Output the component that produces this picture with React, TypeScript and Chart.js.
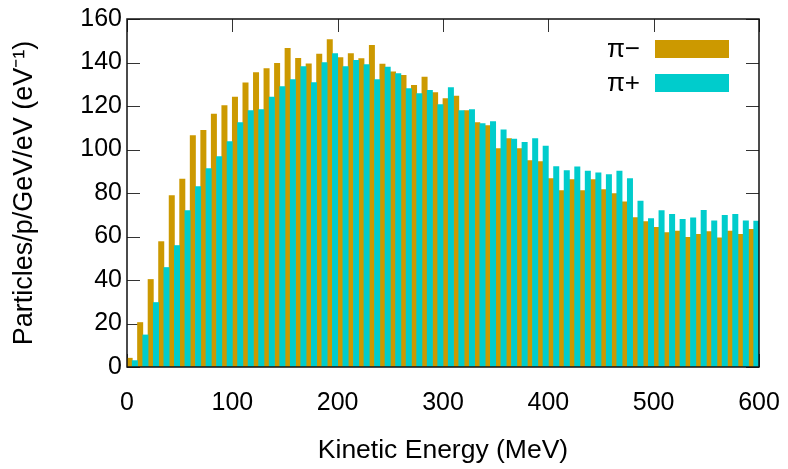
import { useEffect, useRef } from "react";
import { Chart, registerables } from "chart.js";

Chart.register(...registerables);

// Lower edge of each 10 MeV kinetic-energy bin (MeV)
const energyBins = [
  0, 10, 20, 30, 40, 50, 60, 70, 80, 90,
  100, 110, 120, 130, 140, 150, 160, 170, 180, 190,
  200, 210, 220, 230, 240, 250, 260, 270, 280, 290,
  300, 310, 320, 330, 340, 350, 360, 370, 380, 390,
  400, 410, 420, 430, 440, 450, 460, 470, 480, 490,
  500, 510, 520, 530, 540, 550, 560, 570, 580, 590,
];

// π− spectrum
const piMinus = [
  4.2, 20.6, 40.4, 57.8, 79.0, 86.5, 106.6, 109.0, 116.4, 120.4,
  124.2, 130.8, 135.5, 137.4, 139.8, 146.7, 142.1, 139.5, 144.0, 150.7,
  142.4, 144.3, 142.0, 148.1, 139.4, 135.9, 134.2, 129.6, 133.4, 126.3,
  123.6, 124.7, 118.1, 112.5, 111.2, 100.6, 105.2, 100.6, 95.1, 94.6,
  86.8, 81.3, 86.3, 81.3, 86.3, 81.7, 79.9, 76.1, 68.9, 67.0,
  64.4, 62.0, 62.6, 59.8, 61.1, 62.4, 59.5, 62.6, 61.1, 63.4,
];

// π+ spectrum
const piPlus = [
  3.1, 14.9, 29.8, 45.9, 56.0, 72.1, 83.1, 91.4, 96.9, 103.8,
  112.5, 118.1, 118.5, 124.2, 129.1, 132.3, 138.3, 130.9, 140.1, 144.3,
  138.3, 141.1, 139.2, 132.3, 138.0, 135.1, 128.2, 125.9, 127.3, 120.8,
  128.6, 118.1, 118.5, 112.1, 113.0, 109.2, 104.9, 103.5, 105.2, 101.7,
  92.3, 90.5, 92.2, 90.2, 89.4, 88.6, 90.2, 86.8, 76.4, 68.4,
  72.1, 70.3, 68.0, 68.7, 72.2, 67.3, 69.9, 70.3, 67.3, 67.2,
];

const seriesNames = ["π−", "π+"];
const seriesColors = ["#cc9900", "#00cccc"];

const xTicks = [0, 100, 200, 300, 400, 500, 600];
const yTicks = [0, 20, 40, 60, 80, 100, 120, 140, 160];

const BIN_WIDTH = 10;
const FONT = "'Liberation Sans', Arial, Helvetica, sans-serif";

const framePlugin = {
  id: "gnuplotFrame",
  beforeDatasetsDraw(chart: any) {
    const { ctx, chartArea: a, scales } = chart;
    const x = scales.x;
    const y = scales.y;
    const L = 13;
    ctx.save();
    ctx.strokeStyle = "#333";
    ctx.lineWidth = 1;
    ctx.beginPath();
    for (const v of yTicks) {
      const py = Math.round(y.getPixelForValue(v)) + 0.5;
      ctx.moveTo(a.left, py);
      ctx.lineTo(a.left + L, py);
      ctx.moveTo(a.right, py);
      ctx.lineTo(a.right - L, py);
    }
    for (const v of xTicks) {
      const px = Math.round(x.getPixelForValue(v)) + 0.5;
      ctx.moveTo(px, a.top);
      ctx.lineTo(px, a.top + L);
      ctx.moveTo(px, a.bottom);
      ctx.lineTo(px, a.bottom - L);
    }
    ctx.stroke();
    ctx.restore();
  },
  afterDatasetsDraw(chart: any) {
    const { ctx, chartArea: a } = chart;
    ctx.save();
    // frame
    ctx.strokeStyle = "#111";
    ctx.lineWidth = 1.5;
    ctx.strokeRect(a.left, a.top, a.right - a.left, a.bottom - a.top);
    // legend (inside top-right, text left of sample box)
    const boxW = 74;
    const boxH = 18;
    const boxL = a.right - 30 - boxW;
    ctx.font = `26px ${FONT}`;
    ctx.textAlign = "right";
    ctx.textBaseline = "middle";
    seriesNames.forEach((name, i) => {
      const top = a.top + 21 + i * 34;
      ctx.fillStyle = seriesColors[i];
      ctx.fillRect(boxL, top, boxW, boxH);
      ctx.fillStyle = "#000";
      ctx.fillText(name, boxL - 15, top + boxH / 2 + 1);
    });
    ctx.restore();
  },
};

export default function App() {
  const canvasRef = useRef<HTMLCanvasElement | null>(null);

  useEffect(() => {
    document.body.style.margin = "0";
    const canvas = canvasRef.current;
    if (!canvas) return;
    Chart.defaults.font.family = FONT;
    Chart.defaults.color = "#000";

    const minusData = energyBins.map((e, i) => ({ x: e + BIN_WIDTH * 0.25, y: piMinus[i] }));
    const plusData = energyBins.map((e, i) => ({ x: e + BIN_WIDTH * 0.75, y: piPlus[i] }));

    const chart = new Chart(canvas, {
      type: "bar",
      data: {
        datasets: [
          {
            label: seriesNames[0],
            data: minusData,
            backgroundColor: seriesColors[0],
            borderWidth: 0,
            grouped: false,
            order: 2,
            categoryPercentage: 1,
            barPercentage: 1.14,
          } as any,
          {
            label: seriesNames[1],
            data: plusData,
            backgroundColor: seriesColors[1],
            borderWidth: 0,
            grouped: false,
            order: 1,
            categoryPercentage: 1,
            barPercentage: 1.14,
          } as any,
        ],
      },
      options: {
        animation: false,
        responsive: true,
        maintainAspectRatio: false,
        events: [],
        layout: { padding: { top: 19, right: 29, left: 0, bottom: 0 } },
        plugins: {
          legend: { display: false },
          tooltip: { enabled: false },
        },
        scales: {
          x: {
            type: "linear",
            min: 0,
            max: 600,
            offset: false,
            grid: { display: false, drawTicks: false },
            border: { display: false },
            ticks: {
              stepSize: 100,
              font: { size: 25 },
              color: "#000",
              padding: 21,
              maxRotation: 0,
            },
            title: {
              display: true,
              text: "Kinetic Energy (MeV)",
              font: { size: 26.5 },
              color: "#000",
              padding: { top: 0, bottom: 2 },
            },
            afterFit(scale: any) {
              scale.height = 102;
              scale.paddingLeft = 0;
              scale.paddingRight = 0;
            },
          },
          y: {
            min: 0,
            max: 160,
            grid: { display: false, drawTicks: false },
            border: { display: false },
            ticks: {
              stepSize: 20,
              font: { size: 25 },
              color: "#000",
              padding: 5,
            },
            title: {
              display: true,
              text: "Particles/p/GeV/eV (eV⁻¹)",
              font: { size: 27 },
              color: "#000",
              padding: { top: 8, bottom: 0 },
            },
            afterFit(scale: any) {
              scale.width = 127;
              scale.paddingTop = 0;
              scale.paddingBottom = 0;
            },
          },
        },
      },
      plugins: [framePlugin],
    });

    return () => chart.destroy();
  }, []);

  return (
    <div style={{ position: "relative", width: "788px", height: "469px" }}>
      <canvas ref={canvasRef} />
    </div>
  );
}
